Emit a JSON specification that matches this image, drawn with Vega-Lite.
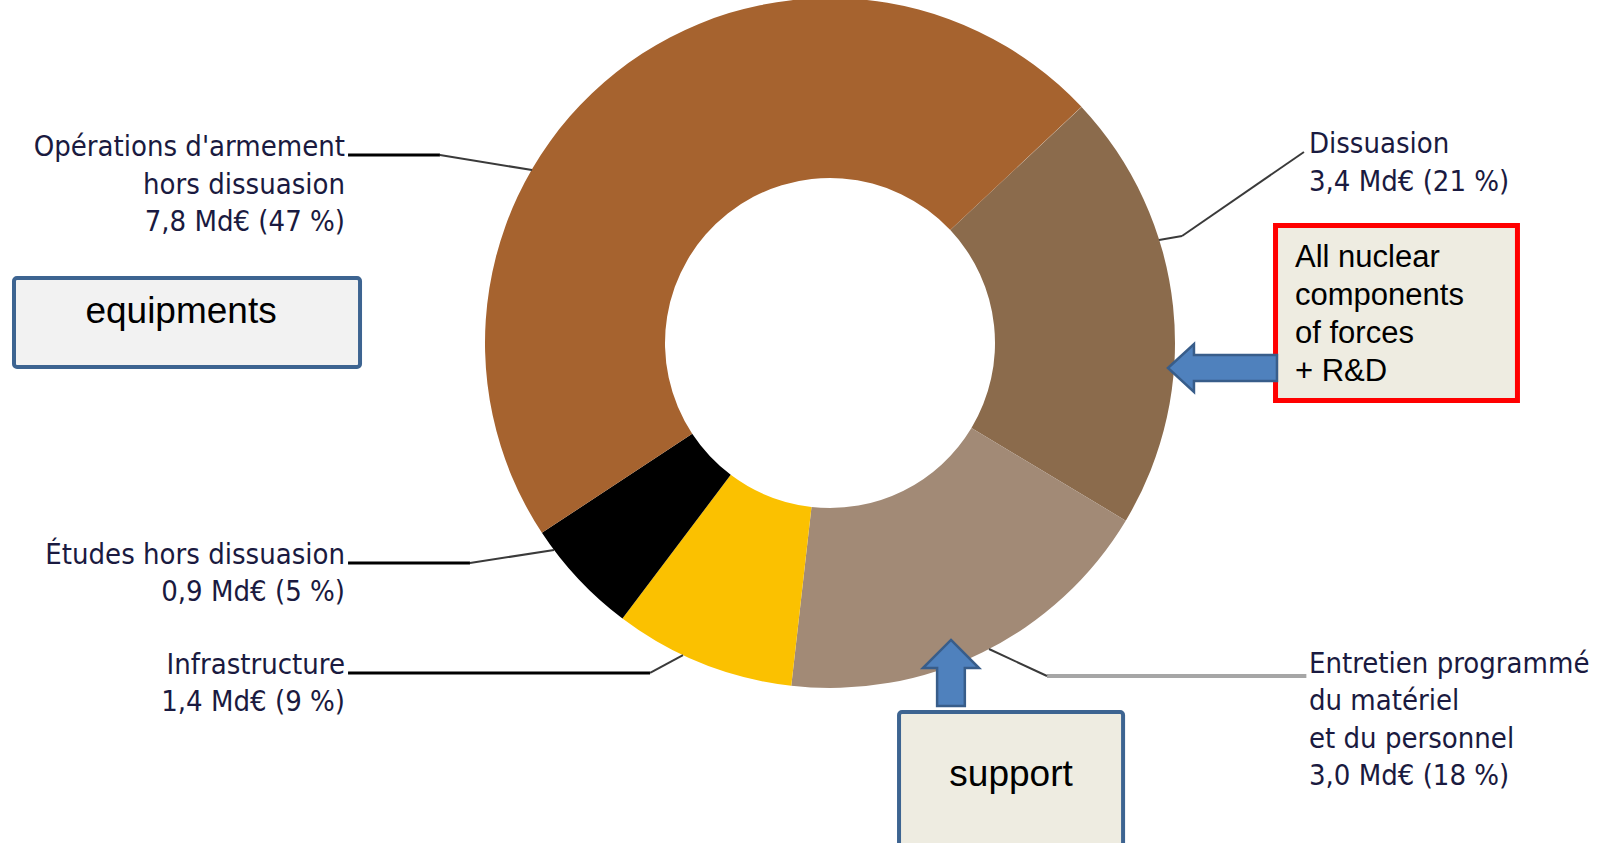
{
  "$schema": "https://vega.github.io/schema/vega-lite/v6.json",
  "width": 1598,
  "height": 843,
  "autosize": "none",
  "padding": 0,
  "background": "white",
  "config": {"view": {"stroke": null}},
  "datasets": {
    "slices": [
      {"key": "dis", "name": "Dissuasion", "value": 3.4, "pct": 21, "ord": 1, "label": "Dissuasion\n3,4 Md€ (21 %)"},
      {"key": "ent", "name": "Entretien programmé du matériel et du personnel", "value": 3.0, "pct": 18, "ord": 2, "label": "Entretien programmé\ndu matériel\net du personnel\n3,0 Md€ (18 %)"},
      {"key": "inf", "name": "Infrastructure", "value": 1.4, "pct": 9, "ord": 3, "label": "Infrastructure\n1,4 Md€ (9 %)"},
      {"key": "etu", "name": "Études hors dissuasion", "value": 0.9, "pct": 5, "ord": 4, "label": "Études hors dissuasion\n0,9 Md€ (5 %)"},
      {"key": "ops", "name": "Opérations d'armement hors dissuasion", "value": 7.8, "pct": 47, "ord": 5, "label": "Opérations d'armement\nhors dissuasion\n7,8 Md€ (47 %)"}
    ],
    "notes": [
      {"key": "equip", "note": "equipments"},
      {"key": "support", "note": "support"},
      {"key": "nuclear", "note": "All nuclear\ncomponents\nof forces\n+ R&D"}
    ]
  },
  "data": {"name": "slices"},
  "layer": [
    {
      "mark": {"type": "arc", "outerRadius": 345, "innerRadius": 165},
      "encoding": {
        "x": {"datum": 51.94, "type": "quantitative", "scale": {"domain": [0, 100], "nice": false, "zero": false}, "axis": null},
        "y": {"datum": 40.69, "type": "quantitative", "scale": {"domain": [0, 100], "nice": false, "zero": false, "reverse": true}, "axis": null},
        "theta": {"field": "value", "type": "quantitative", "stack": true, "scale": {"range": [0.817, 7.1]}},
        "order": {"field": "ord", "type": "quantitative"},
        "color": {
          "field": "name", "type": "nominal", "legend": null,
          "scale": {
            "domain": ["Dissuasion", "Entretien programmé du matériel et du personnel", "Infrastructure", "Études hors dissuasion", "Opérations d'armement hors dissuasion"],
            "range": ["#8B6B4C", "#A28A76", "#FBC100", "#000000", "#A6632F"]
          }
        }
      }
    },
    {
      "transform": [{"filter": "datum.key === 'ops'"}],
      "mark": {"type": "rule", "color": "#000000", "strokeWidth": 3},
      "encoding": {"x": {"datum": 21.78, "type": "quantitative"}, "x2": {"datum": 27.53}, "y": {"datum": 18.39, "type": "quantitative"}, "y2": {"datum": 18.39}}
    },
    {
      "transform": [{"filter": "datum.key === 'ops'"}],
      "mark": {"type": "rule", "color": "#3a3a3a", "strokeWidth": 2},
      "encoding": {"x": {"datum": 27.53, "type": "quantitative"}, "x2": {"datum": 33.29}, "y": {"datum": 18.39, "type": "quantitative"}, "y2": {"datum": 20.17}}
    },
    {
      "transform": [{"filter": "datum.key === 'etu'"}],
      "mark": {"type": "rule", "color": "#000000", "strokeWidth": 3},
      "encoding": {"x": {"datum": 21.78, "type": "quantitative"}, "x2": {"datum": 29.41}, "y": {"datum": 66.79, "type": "quantitative"}, "y2": {"datum": 66.79}}
    },
    {
      "transform": [{"filter": "datum.key === 'etu'"}],
      "mark": {"type": "rule", "color": "#3a3a3a", "strokeWidth": 2},
      "encoding": {"x": {"datum": 29.41, "type": "quantitative"}, "x2": {"datum": 34.67}, "y": {"datum": 66.79, "type": "quantitative"}, "y2": {"datum": 65.24}}
    },
    {
      "transform": [{"filter": "datum.key === 'inf'"}],
      "mark": {"type": "rule", "color": "#000000", "strokeWidth": 3},
      "encoding": {"x": {"datum": 21.78, "type": "quantitative"}, "x2": {"datum": 40.68}, "y": {"datum": 79.83, "type": "quantitative"}, "y2": {"datum": 79.83}}
    },
    {
      "transform": [{"filter": "datum.key === 'inf'"}],
      "mark": {"type": "rule", "color": "#3a3a3a", "strokeWidth": 2},
      "encoding": {"x": {"datum": 40.68, "type": "quantitative"}, "x2": {"datum": 42.74}, "y": {"datum": 79.83, "type": "quantitative"}, "y2": {"datum": 77.7}}
    },
    {
      "transform": [{"filter": "datum.key === 'dis'"}],
      "mark": {"type": "rule", "color": "#3a3a3a", "strokeWidth": 2},
      "encoding": {"x": {"datum": 81.6, "type": "quantitative"}, "x2": {"datum": 73.97}, "y": {"datum": 18.03, "type": "quantitative"}, "y2": {"datum": 28.0}}
    },
    {
      "transform": [{"filter": "datum.key === 'dis'"}],
      "mark": {"type": "rule", "color": "#3a3a3a", "strokeWidth": 2},
      "encoding": {"x": {"datum": 73.97, "type": "quantitative"}, "x2": {"datum": 72.53}, "y": {"datum": 28.0, "type": "quantitative"}, "y2": {"datum": 28.47}}
    },
    {
      "transform": [{"filter": "datum.key === 'ent'"}],
      "mark": {"type": "rule", "color": "#A6A6A6", "strokeWidth": 4},
      "encoding": {"x": {"datum": 65.52, "type": "quantitative"}, "x2": {"datum": 81.75}, "y": {"datum": 80.19, "type": "quantitative"}, "y2": {"datum": 80.19}}
    },
    {
      "transform": [{"filter": "datum.key === 'ent'"}],
      "mark": {"type": "rule", "color": "#3a3a3a", "strokeWidth": 2},
      "encoding": {"x": {"datum": 65.52, "type": "quantitative"}, "x2": {"datum": 61.89}, "y": {"datum": 80.19, "type": "quantitative"}, "y2": {"datum": 76.99}}
    },
    {
      "transform": [{"filter": "datum.key === 'ops'"}],
      "mark": {"type": "text", "align": "right", "baseline": "alphabetic", "font": "DejaVu Sans Condensed, sans-serif", "fontSize": 29, "lineHeight": 37.5, "lineBreak": "\n", "color": "#1a1a40"},
      "encoding": {"x": {"datum": 21.59, "type": "quantitative"}, "y": {"datum": 18.51, "type": "quantitative"}, "text": {"field": "label"}}
    },
    {
      "transform": [{"filter": "datum.key === 'etu'"}],
      "mark": {"type": "text", "align": "right", "baseline": "alphabetic", "font": "DejaVu Sans Condensed, sans-serif", "fontSize": 29, "lineHeight": 37.5, "lineBreak": "\n", "color": "#1a1a40"},
      "encoding": {"x": {"datum": 21.59, "type": "quantitative"}, "y": {"datum": 66.9, "type": "quantitative"}, "text": {"field": "label"}}
    },
    {
      "transform": [{"filter": "datum.key === 'inf'"}],
      "mark": {"type": "text", "align": "right", "baseline": "alphabetic", "font": "DejaVu Sans Condensed, sans-serif", "fontSize": 29, "lineHeight": 37.5, "lineBreak": "\n", "color": "#1a1a40"},
      "encoding": {"x": {"datum": 21.59, "type": "quantitative"}, "y": {"datum": 79.95, "type": "quantitative"}, "text": {"field": "label"}}
    },
    {
      "transform": [{"filter": "datum.key === 'dis'"}],
      "mark": {"type": "text", "align": "left", "baseline": "alphabetic", "font": "DejaVu Sans Condensed, sans-serif", "fontSize": 29, "lineHeight": 37.5, "lineBreak": "\n", "color": "#1a1a40"},
      "encoding": {"x": {"datum": 81.91, "type": "quantitative"}, "y": {"datum": 18.15, "type": "quantitative"}, "text": {"field": "label"}}
    },
    {
      "transform": [{"filter": "datum.key === 'ent'"}],
      "mark": {"type": "text", "align": "left", "baseline": "alphabetic", "font": "DejaVu Sans Condensed, sans-serif", "fontSize": 29, "lineHeight": 37.5, "lineBreak": "\n", "color": "#1a1a40"},
      "encoding": {"x": {"datum": 81.91, "type": "quantitative"}, "y": {"datum": 79.83, "type": "quantitative"}, "text": {"field": "label"}}
    },
    {
      "data": {"name": "notes"},
      "transform": [{"filter": "datum.key === 'equip'"}],
      "mark": {"type": "rect", "fill": "#F2F2F2", "stroke": "#3D6491", "strokeWidth": 4, "cornerRadius": 3},
      "encoding": {"x": {"datum": 0.876, "type": "quantitative"}, "x2": {"datum": 22.53}, "y": {"datum": 32.98, "type": "quantitative"}, "y2": {"datum": 43.53}}
    },
    {
      "data": {"name": "notes"},
      "transform": [{"filter": "datum.key === 'equip'"}],
      "mark": {"type": "text", "align": "center", "baseline": "alphabetic", "font": "Liberation Sans, Arial, sans-serif", "fontSize": 37, "color": "#000000"},
      "encoding": {"x": {"datum": 11.33, "type": "quantitative"}, "y": {"datum": 38.32, "type": "quantitative"}, "text": {"field": "note"}}
    },
    {
      "data": {"name": "notes"},
      "transform": [{"filter": "datum.key === 'nuclear'"}],
      "mark": {"type": "rect", "fill": "#EEECE1", "stroke": "#FF0000", "strokeWidth": 5},
      "encoding": {"x": {"datum": 79.82, "type": "quantitative"}, "x2": {"datum": 94.96}, "y": {"datum": 26.75, "type": "quantitative"}, "y2": {"datum": 47.51}}
    },
    {
      "data": {"name": "notes"},
      "transform": [{"filter": "datum.key === 'nuclear'"}],
      "mark": {"type": "text", "align": "left", "baseline": "alphabetic", "font": "Liberation Sans, Arial, sans-serif", "fontSize": 31, "lineHeight": 38, "lineBreak": "\n", "color": "#000000"},
      "encoding": {"x": {"datum": 81.04, "type": "quantitative"}, "y": {"datum": 31.67, "type": "quantitative"}, "text": {"field": "note"}}
    },
    {
      "data": {"name": "notes"},
      "transform": [{"filter": "datum.key === 'support'"}],
      "mark": {"type": "rect", "fill": "#EEECE1", "stroke": "#3D6491", "strokeWidth": 4, "cornerRadius": 3},
      "encoding": {"x": {"datum": 56.26, "type": "quantitative"}, "x2": {"datum": 70.28}, "y": {"datum": 84.46, "type": "quantitative"}, "y2": {"datum": 102.02}}
    },
    {
      "data": {"name": "notes"},
      "transform": [{"filter": "datum.key === 'support'"}],
      "mark": {"type": "text", "align": "center", "baseline": "alphabetic", "font": "Liberation Sans, Arial, sans-serif", "fontSize": 37, "color": "#000000"},
      "encoding": {"x": {"datum": 63.27, "type": "quantitative"}, "y": {"datum": 93.24, "type": "quantitative"}, "text": {"field": "note"}}
    },
    {
      "data": {"name": "notes"},
      "transform": [{"filter": "datum.key === 'nuclear'"}],
      "mark": {"type": "point", "filled": true, "fill": "#4F81BD", "stroke": "#385D8A", "strokeWidth": 2.5, "opacity": 1, "size": 11881, "shape": "M-1,0 L-0.523,-0.44 L-0.523,-0.239 L1,-0.239 L1,0.239 L-0.523,0.239 L-0.523,0.44 Z"},
      "encoding": {"x": {"datum": 76.5, "type": "quantitative"}, "y": {"datum": 43.65, "type": "quantitative"}}
    },
    {
      "data": {"name": "notes"},
      "transform": [{"filter": "datum.key === 'support'"}],
      "mark": {"type": "point", "filled": true, "fill": "#4F81BD", "stroke": "#385D8A", "strokeWidth": 2.5, "opacity": 1, "size": 4356, "shape": "M0,-1 L0.85,-0.15 L0.42,-0.15 L0.42,1 L-0.42,1 L-0.42,-0.15 L-0.85,-0.15 Z"},
      "encoding": {"x": {"datum": 59.51, "type": "quantitative"}, "y": {"datum": 79.83, "type": "quantitative"}}
    }
  ]
}
